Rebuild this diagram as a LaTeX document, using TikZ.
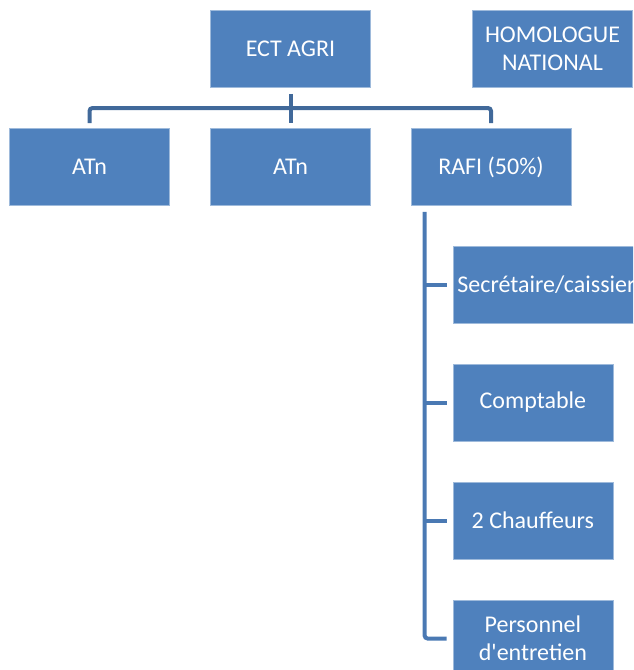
\documentclass[tikz,border=0pt]{standalone}
\usepackage{fontspec}
\setmainfont{Carlito}
\usetikzlibrary{positioning,calc}
\definecolor{boxfill}{HTML}{4F81BD}
\definecolor{busline}{HTML}{41699A}
\definecolor{subline}{HTML}{4A79B3}
\tikzset{
  unit/.style={draw=boxfill!55!white, line width=0.4pt, fill=boxfill, text=white,
    minimum width=80pt, minimum height=38.5pt, inner sep=2.25pt, align=center,
    font=\fontsize{12}{14}\selectfont},
  bus/.style={busline, line width=2pt, rounded corners=1.5pt},
  sub/.style={subline, line width=2pt, rounded corners=1.5pt}
}
\begin{document}
\begin{tikzpicture}[x=0.5pt, y=-0.5pt]
    \useasboundingbox (0,0) rectangle (633,670);
    \clip (0,0) rectangle (633,670);
    % Top level
    \node[unit] (ect) at (290.5,49) {ECT AGRI};
    \node[unit] (homo) at (552.5,49) {HOMOLOGUE\\NATIONAL};
    \node[unit] (atn1) at (89.5,167) {ATn};
    \node[unit] (atn2) at (290.5,167) {ATn};
    \node[unit] (rafi) at (491,167) {RAFI (50\%)};
    % Staff under RAFI
    \node[unit, anchor=west] (secr) at (452.5,285) {Secrétaire/caissier};
    \node[unit, anchor=west] (compt) at (452.5,402.5) {Comptable};
    \node[unit, anchor=west] (chauf) at (452.5,520.5) {2 Chauffeurs};
    \node[unit, anchor=west] (pers) at (452.5,638.5) {Personnel\\d\textquotesingle entretien};

    % Connectors
    \coordinate (bus) at (290.5,108);
    \draw[bus] ([yshift=-3pt]ect.south) -- ([yshift=2.5pt]atn2.north);
    \draw[bus] ([yshift=2.5pt]atn1.north) |- (bus) -| ([yshift=2.5pt]rafi.north);
    \coordinate (trunk) at ([xshift=7pt,yshift=-3pt]rafi.south west);
    \draw[sub] (trunk) |- ([xshift=-3pt]pers.west);
    \foreach \n in {secr,compt,chauf}
        \draw[sub] (trunk |- \n.west) -- ([xshift=-3pt]\n.west);
\end{tikzpicture}
\end{document}
